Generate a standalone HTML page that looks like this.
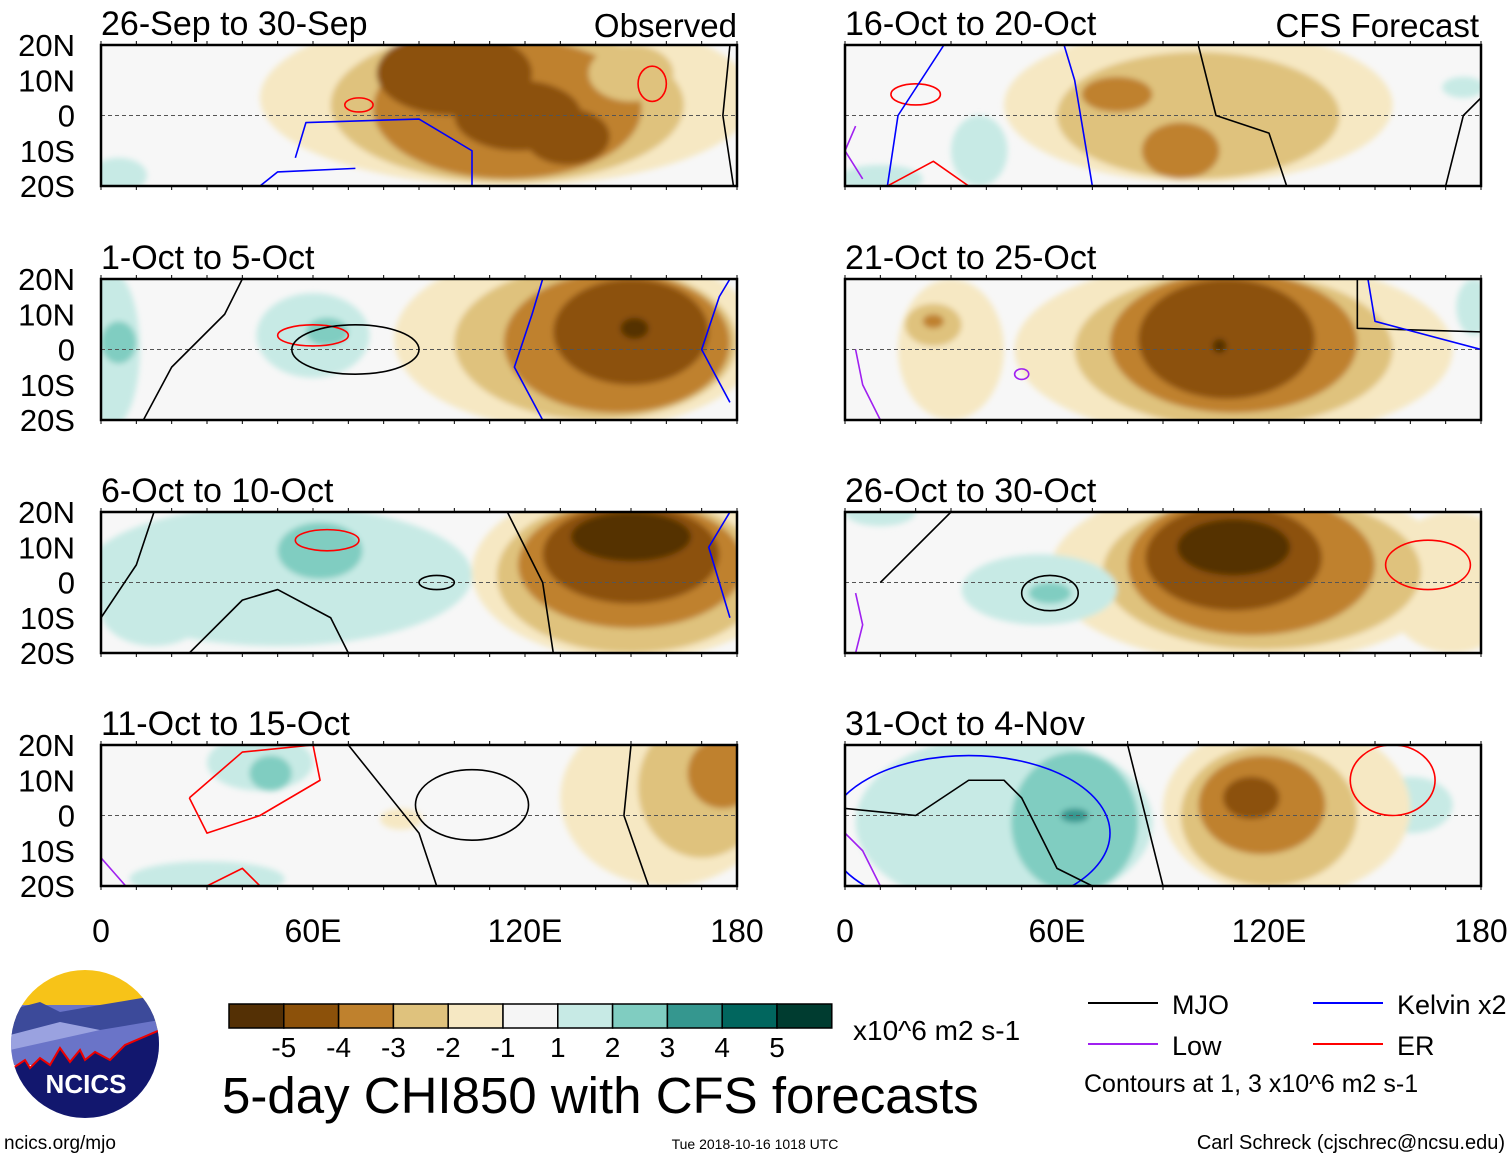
<!DOCTYPE html>
<html><head><meta charset="utf-8"><style>
body{margin:0;background:#fff;font-family:"Liberation Sans",sans-serif}
svg{display:block}
</style></head><body>
<svg id="chart" width="1510" height="1159" viewBox="0 0 1510 1159" xmlns="http://www.w3.org/2000/svg" font-family="Liberation Sans, sans-serif">
<g id="panels"></g>
<g id="legend"></g>
</svg>
<script>
const levelColors=["#543005","#8c510a","#bf812d","#dfc27d","#f6e8c3","#f5f5f5","#c7eae5","#80cdc1","#35978f","#01665e","#003c30"];
const levelTicks=["-5","-4","-3","-2","-1","1","2","3","4","5"];
const lonTicks=[0,60,120,180];
const lonTickLabels=["0","60E","120E","180"];
const latTicks=[20,10,0,-10,-20];
const latTickLabels=["20N","10N","0","10S","20S"];
const panelTitles=["26-Sep to 30-Sep","1-Oct to 5-Oct","6-Oct to 10-Oct","11-Oct to 15-Oct","16-Oct to 20-Oct","21-Oct to 25-Oct","26-Oct to 30-Oct","31-Oct to 4-Nov"];
// blobs: [lon, lat, rxDeg, ryDeg, level(-5..5)]
const blobs0=[[115,5,70,25,-1],[115,3,50,22,-2],[115,2,38,20,-3],[100,12,22,12,-4],[118,0,18,10,-4],[132,-6,12,8,-4],[150,12,12,8,-2],[5,-17,8,5,1]];
const blobs1=[[3,0,8,22,1],[5,2,5,6,2],[60,4,16,12,1],[64,5,6,4,2],[135,3,52,26,-1],[140,2,40,22,-2],[146,2,32,20,-3],[150,5,22,15,-4],[151,6,4,3,-5]];
const blobs2=[[50,2,55,20,1],[15,-8,15,10,1],[62,9,12,8,2],[150,3,45,25,-1],[150,2,38,22,-2],[150,5,32,18,-3],[150,8,25,14,-4],[150,13,17,7,-5]];
const blobs3=[[45,15,15,8,1],[48,12,6,5,2],[30,-18,22,5,1],[160,5,30,25,-1],[170,8,18,20,-2],[176,12,10,10,-3],[85,-1,6,3,-1]];
const blobs4=[[100,3,55,22,-1],[100,0,40,18,-2],[77,6,10,5,-3],[95,-10,11,8,-3],[38,-10,8,10,1],[175,8,6,3,1],[10,-18,12,4,1]];
const blobs5=[[110,0,62,26,-1],[30,0,15,20,-1],[110,0,45,22,-2],[25,7,8,6,-2],[110,2,35,20,-3],[25,8,3,2,-3],[108,3,25,17,-4],[106,1,2,2,-5],[178,12,5,8,1]];
const blobs6=[[115,3,57,26,-1],[172,0,20,20,-1],[118,3,45,22,-2],[115,5,35,20,-3],[110,7,25,15,-4],[110,10,16,8,-5],[55,-2,22,10,1],[58,-3,6,3,2],[10,20,10,4,1]];
const blobs7=[[45,-2,42,25,1],[65,-2,18,20,2],[65,0,4,2,3],[160,3,12,8,1],[125,2,35,25,-1],[120,0,25,20,-2],[118,3,18,14,-3],[115,5,8,6,-4]];
const allBlobs=[blobs0,blobs1,blobs2,blobs3,blobs4,blobs5,blobs6,blobs7];
// contour ellipses: [lon, lat, rxDeg, ryDeg, colorKey]
const rings0=[[73,3,4,2,"er"],[156,9,4,5,"er"]];
const rings1=[[60,4,10,3,"er"],[72,0,18,7,"mjo"]];
const rings2=[[64,12,9,3,"er"],[95,0,5,2,"mjo"]];
const rings3=[[105,3,16,10,"mjo"]];
const rings4=[[20,6,7,3,"er"]];
const rings5=[[50,-7,2,1.5,"low"]];
const rings6=[[58,-3,8,5,"mjo"],[165,5,12,7,"er"]];
const rings7=[[155,10,12,10,"er"],[35,-5,40,22,"kelvin"]];
const allRings=[rings0,rings1,rings2,rings3,rings4,rings5,rings6,rings7];
// contour polylines: [colorKey, [[lon,lat],...]]
const lines0=[["kelvin",[[45,-20],[50,-16],[72,-15]]],["kelvin",[[55,-12],[58,-2],[90,-1],[105,-10],[105,-20]]],["mjo",[[178,20],[176,0],[179,-20]]]];
const lines1=[["mjo",[[12,-20],[20,-5],[35,10],[40,20]]],["kelvin",[[125,-20],[117,-5],[122,10],[125,20]]],["kelvin",[[178,-15],[170,0],[175,15],[178,20]]]];
const lines2=[["mjo",[[0,-10],[10,5],[15,20]]],["mjo",[[25,-20],[40,-5],[50,-2],[65,-10],[70,-20]]],["mjo",[[115,20],[125,0],[128,-20]]],["kelvin",[[178,20],[172,10],[178,-10]]]];
const lines3=[["mjo",[[70,20],[90,-5],[95,-20]]],["mjo",[[150,20],[148,0],[155,-20]]],["er",[[25,5],[40,18],[60,20],[62,10],[45,0],[30,-5],[25,5]]],["low",[[0,-12],[7,-20]]],["er",[[30,-20],[40,-15],[45,-20]]]];
const lines4=[["kelvin",[[28,20],[15,0],[12,-20]]],["kelvin",[[62,20],[65,10],[70,-20]]],["mjo",[[100,20],[105,0],[120,-5],[125,-20]]],["mjo",[[170,-20],[175,0],[180,5]]],["low",[[3,-3],[0,-10],[5,-18]]],["er",[[12,-20],[25,-13],[35,-20]]]];
const lines5=[["mjo",[[145,20],[145,6],[180,5]]],["kelvin",[[148,20],[150,8],[180,0]]],["low",[[3,0],[5,-10],[10,-20]]]];
const lines6=[["mjo",[[10,0],[20,10],[30,20]]],["low",[[3,-3],[5,-12],[3,-20]]]];
const lines7=[["mjo",[[0,2],[20,0],[35,10],[45,10],[50,5],[55,-5],[60,-15],[70,-20]]],["mjo",[[80,20],[85,0],[90,-20]]],["low",[[0,-5],[5,-10],[10,-20]]]];
const allLines=[lines0,lines1,lines2,lines3,lines4,lines5,lines6,lines7];
const lineColors={mjo:"#000",kelvin:"#0000ff",low:"#a020f0",er:"#ff0000"};

const NS="http://www.w3.org/2000/svg";
const panelX=[101,101,101,101,845,845,845,845];
const panelY=[45,279,512,745,45,279,512,745];
const PW=636,PH=141;
function mk(t,a,p){const e=document.createElementNS(NS,t);for(const k in a)e.setAttribute(k,a[k]);p.appendChild(e);return e;}
const root=document.getElementById('panels');
const defs=mk('defs',{},root);
mk('filter',{id:'soft'},defs).appendChild(document.createElementNS(NS,'feGaussianBlur')).setAttribute('stdDeviation','3');
for(let i=0;i<8;i++){
  const x0=panelX[i],y0=panelY[i];
  const xs=l=>x0+l/180*PW, ys=la=>y0+(20-la)/40*PH;
  const cp=mk('clipPath',{id:'c'+i},defs);mk('rect',{x:x0,y:y0,width:PW,height:PH},cp);
  const g=mk('g',{'clip-path':'url(#c'+i+')'},root);
  
  
  mk('rect',{x:x0,y:y0,width:PW,height:PH,fill:"#f7f7f7"},g);
  const fg=mk('g',{filter:'url(#soft)'},g);
  allBlobs[i].forEach(b=>{
    const idx=b[4]+5;
    const e=mk('ellipse',{cx:xs(b[0]),cy:ys(b[1]),rx:b[2]/180*PW,ry:b[3]/40*PH,fill:levelColors[idx]},fg);
    
    
  });
  mk('line',{x1:x0,x2:x0+PW,y1:ys(0),y2:ys(0),stroke:"#555","stroke-dasharray":"4,3","stroke-width":1},g);
  allRings[i].forEach(r=>{
    const e=mk('ellipse',{cx:xs(r[0]),cy:ys(r[1]),rx:r[2]/180*PW,ry:r[3]/40*PH,fill:"none",stroke:lineColors[r[4]],"stroke-width":1.6},g);
    
    
  });
  allLines[i].forEach(L=>{
    const e=mk('polyline',{points:L[1].map(p=>xs(p[0])+','+ys(p[1])).join(' '),fill:"none",stroke:lineColors[L[0]],"stroke-width":1.6,"stroke-linejoin":"round"},g);
    
    
  });
  const fr=mk('rect',{x:x0,y:y0,width:PW,height:PH,fill:"none",stroke:"#000","stroke-width":2.5},root);
  
  
  for(let l=0;l<=180;l+=10){mk('line',{x1:xs(l),x2:xs(l),y1:y0,y2:y0-4,stroke:"#000"},root);mk('line',{x1:xs(l),x2:xs(l),y1:y0+PH,y2:y0+PH+4,stroke:"#000"},root);}
  const t=mk('text',{x:x0,y:y0-10,'font-size':34},root);t.textContent=panelTitles[i];
  
  
  if(i<4){latTicks.forEach((la,j)=>{const tt=mk('text',{x:75,y:ys(la)+11,'font-size':31,'text-anchor':'end'},root);tt.textContent=latTickLabels[j];
    
    });}
  if(i==3||i==7){lonTicks.forEach((l,j)=>{const tt=mk('text',{x:xs(l),y:942,'font-size':32,'text-anchor':'middle'},root);tt.textContent=lonTickLabels[j];
    
    });}
}
let t=mk('text',{x:737,y:37,'font-size':33,'text-anchor':'end'},root);t.textContent="Observed";


t=mk('text',{x:1479,y:37,'font-size':33,'text-anchor':'end'},root);t.textContent="CFS Forecast";



const lg=document.getElementById('legend');
const cbX=229,cbY=1004,cbW=54.8;
levelColors.forEach((c,i)=>{const r=mk('rect',{x:cbX+i*cbW,y:cbY,width:cbW,height:24,fill:c,stroke:"#000","stroke-width":1.5},lg);
  
  });
levelTicks.forEach((s,i)=>{const tt=mk('text',{x:cbX+(i+1)*cbW,y:1057,'font-size':28,'text-anchor':'middle'},lg);tt.textContent=s;
  
  });
function txt(x,y,s,fs,name,anchor){const e=mk('text',{x:x,y:y,'font-size':fs,'text-anchor':anchor||'start'},lg);e.textContent=s;return e;}
txt(853,1040,"x10^6 m2 s-1",28,'colorbar-units');
txt(222,1113,"5-day CHI850 with CFS forecasts",51,'main-title');
txt(4,1149,"ncics.org/mjo",19,'site-url');
txt(755,1149,"Tue 2018-10-16 1018 UTC",14,'timestamp','middle');
txt(1505,1149,"Carl Schreck (cjschrec@ncsu.edu)",20,'author','end');
const keys=[["MJO",1088,1003,"#000"],["Kelvin x2",1313,1003,"#0000ff"],["Low",1088,1044,"#a020f0"],["ER",1313,1044,"#ff0000"]];
keys.forEach(k=>{mk('line',{x1:k[1],x2:k[1]+70,y1:k[2],y2:k[2],stroke:k[3],"stroke-width":2},lg);txt(k[1]+84,k[2]+11,k[0],27,'legend-entry');});
txt(1084,1092,"Contours at 1, 3 x10^6 m2 s-1",25,'contour-note');
// logo
const lc=mk('clipPath',{id:'logo'},defs);mk('ellipse',{cx:85,cy:1044,rx:74,ry:74},lc);
const lo=mk('g',{'clip-path':'url(#logo)'},lg);


mk('rect',{x:10,y:970,width:150,height:60,fill:"#f7c318"},lo);
mk('rect',{x:10,y:1005,width:150,height:60,fill:"#6a74c8"},lo);
mk('path',{d:"M10 1010 L40 1002 L60 1012 L100 1005 L160 995 L160 1020 L100 1030 L10 1035Z",fill:"#3c4a9a"},lo);
mk('path',{d:"M10 1035 L60 1022 L100 1030 L10 1050Z",fill:"#9aa2e0"},lo);
mk('path',{d:"M10 1070 L25 1060 L30 1068 L40 1058 L50 1065 L60 1048 L70 1062 L80 1050 L85 1060 L95 1052 L110 1060 L125 1045 L160 1030 L160 1120 L10 1120Z",fill:"#12176e",stroke:"#e00","stroke-width":2},lo);
const nt=mk('text',{x:86,y:1093,'font-size':26,'font-weight':'bold',fill:"#fff",'text-anchor':'middle'},lo);nt.textContent="NCICS";
</script>
</body></html>
